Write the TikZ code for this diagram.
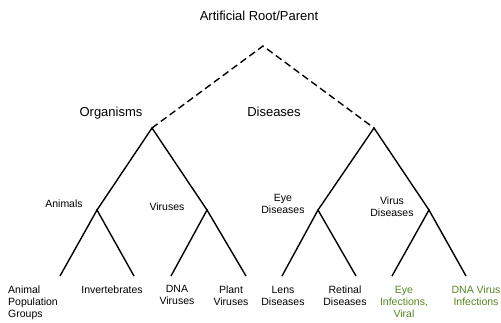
\documentclass[tikz,border=0pt]{standalone}
\usepackage{fontspec}
\setmainfont{Liberation Sans}
\definecolor{leafgreen}{RGB}{84,134,30}
\begin{document}
\begin{tikzpicture}[x=1pt,y=-1pt,
  edge/.style={line width=1.4pt},
  dashedge/.style={line width=1.4pt, dash pattern=on 7pt off 4pt},
  biglabel/.style={font=\fontsize{13}{15.6}\selectfont, inner sep=0pt, anchor=base},
  smalllabel/.style={font=\fontsize{10.5}{12}\selectfont, inner sep=0pt, align=center, anchor=north},
  greenlabel/.style={smalllabel, text=leafgreen}]
\useasboundingbox (0,0) rectangle (501,322);
% junctions
\coordinate (root) at (263,46);
\coordinate (org) at (152,128);
\coordinate (dis) at (374,128);
\coordinate (ani) at (97,210);
\coordinate (vir) at (207,210);
\coordinate (eye) at (318,210);
\coordinate (vdis) at (429,210);
\coordinate (l1) at (60,276);
\coordinate (l2) at (134,276);
\coordinate (l3) at (171,276);
\coordinate (l4) at (246,276);
\coordinate (l5) at (282,276);
\coordinate (l6) at (356,276);
\coordinate (l7) at (392,276);
\coordinate (l8) at (466,276);
% connectors
\draw[dashedge] (org) -- (root) -- (dis);
\draw[edge] (ani) -- (org) -- (vir);
\draw[edge] (eye) -- (dis) -- (vdis);
\draw[edge] (l1) -- (ani) -- (l2);
\draw[edge] (l3) -- (vir) -- (l4);
\draw[edge] (l5) -- (eye) -- (l6);
\draw[edge] (l7) -- (vdis) -- (l8);
% labels
\node[biglabel] (troot) at (259,20.5) {Artificial Root/Parent};
\node[biglabel] (torg) at (111,116) {Organisms};
\node[biglabel] (tdis) at (274,116) {Diseases};
\node[smalllabel, anchor=base] (tani) at (64,207.7) {Animals};
\node[smalllabel, anchor=base] (tvir) at (167,210) {Viruses};
\node[smalllabel] (teye) at (283,194.5) {Eye\\Diseases};
\node[smalllabel] (tvdis) at (392,196.5) {Virus\\Diseases};
\node[smalllabel, anchor=north west, align=left] (tl1) at (8,285.2) {Animal\\Population\\Groups};
\node[smalllabel] (tl2) at (112,285.2) {Invertebrates};
\node[smalllabel] (tl3) at (177,285.2) {DNA\\Viruses};
\node[smalllabel] (tl4) at (231,285.2) {Plant\\Viruses};
\node[smalllabel] (tl5) at (283,285.8) {Lens\\Diseases};
\node[smalllabel] (tl6) at (345,285.8) {Retinal\\Diseases};
\node[greenlabel] (tl7) at (404,285.8) {Eye\\Infections,\\Viral};
\node[greenlabel] (tl8) at (476,285.8) {DNA Virus\\Infections};
\end{tikzpicture}
\end{document}
